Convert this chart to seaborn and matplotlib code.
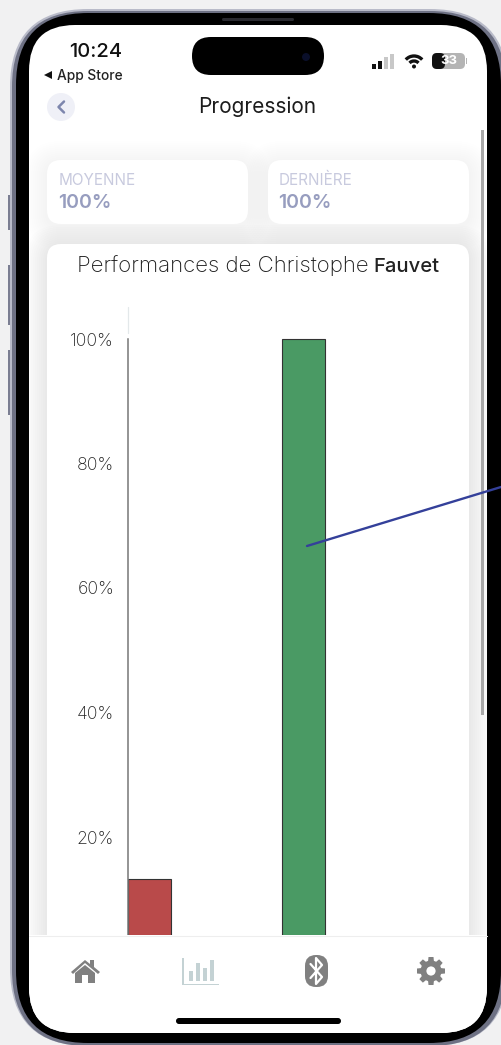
import numpy as np
import pandas as pd
import matplotlib.pyplot as plt
import seaborn as sns
from matplotlib.patches import FancyBboxPatch, Circle, Polygon, Rectangle, Arc

# Data
attempts = ["Essai 1", "Essai 2"]
scores = [13.3, 100]
bar_colors = ["#b94a4a", "#4a9a64"]
y_ticks = [20, 40, 60, 80, 100]
y_tick_labels = ["20%", "40%", "60%", "80%", "100%"]

W, H = 502, 1045
UI_FONT = "Inter"

sns.set_theme(style="white")
plt.rcParams["font.family"] = [UI_FONT, "DejaVu Sans"]

fig = plt.figure(figsize=(W / 100, H / 100), dpi=100, facecolor="#f1f1f2")


def pixel_axes(zorder):
    a = fig.add_axes([0, 0, 1, 1], zorder=zorder)
    a.set_xlim(0, W)
    a.set_ylim(H, 0)
    a.axis("off")
    a.patch.set_alpha(0)
    return a


def rounded(a, x, y, w, h, r, **kw):
    p = FancyBboxPatch((x, y), w, h, boxstyle=f"round,pad=0,rounding_size={r}", linewidth=kw.pop("lw", 0), **kw)
    a.add_patch(p)
    return p


back = pixel_axes(0)

# phone body
rounded(back, 10, 9, 498, 1037, 78, fc="#b9bbc9")
rounded(back, 12, 11, 494, 1035, 76, fc="#6e7184")
rounded(back, 16, 13, 485, 1030, 72, fc="#000000")
screen = rounded(back, 29, 25, 458, 1008, 46, fc="#ffffff")
for y0, y1 in [(195, 230), (265, 325), (350, 415)]:
    back.add_patch(Rectangle((8.5, y0), 2, y1 - y0, fc="#7b7e92", lw=0))
rounded(back, 222, 18, 72, 3, 1.5, fc="#2a2a30")

# soft shadows behind the cards
for grow in range(22, 0, -2):
    for x, y, w, h, alpha in [(47, 160, 201, 64, 0.0035), (268, 160, 201, 64, 0.0035), (47, 244, 422, 720, 0.006)]:
        s = rounded(back, x - grow, y - grow + 3, w + 2 * grow, h + 2 * grow, 14 + grow, fc="#000000", alpha=alpha)
        s.set_clip_path(screen)
rounded(back, 47, 160, 201, 64, 14, fc="#ffffff")
rounded(back, 268, 160, 201, 64, 14, fc="#ffffff")
rounded(back, 47, 244, 422, 720, 14, fc="#ffffff")

# status bar
back.text(96, 52, "10:24", fontsize=14.5, weight="medium", ha="center", va="center", color="#111111")
back.add_patch(Polygon([[44, 75], [52, 71], [52, 79]], fc="#111111", lw=0))
back.text(57, 76, "App Store", fontsize=9.9, weight="medium", ha="left", va="center", color="#222222")
rounded(back, 192, 37, 132, 38, 19, fc="#000000")
back.add_patch(Circle((306, 57), 4, fc="#0a0f2a", lw=0))
for i, (h, col) in enumerate(zip([5, 8, 12, 15], ["#111111", "#111111", "#c8c8c8", "#c8c8c8"])):
    back.add_patch(Rectangle((372.5 + i * 6, 68.5 - h), 4, h, fc=col, lw=0))
back.add_patch(Circle((414, 66.5), 2, fc="#111111", lw=0))
for d in [12, 22]:
    back.add_patch(Arc((414, 67), d, d, theta1=222, theta2=318, lw=2.4, color="#111111"))
rounded(back, 432, 53, 33, 16, 5, fc="#b4b4b4")
rounded(back, 432, 53, 13, 16, 5, fc="#111111")
back.add_patch(Rectangle((466, 58), 1.5, 6, fc="#b4b4b4", lw=0))
back.text(448.5, 61.5, "33", fontsize=9.5, weight="bold", ha="center", va="center", color="#ffffff")

# header
back.add_patch(Circle((61, 107), 14, fc="#eff0f7", lw=0))
back.plot([64, 58.5, 64], [101.5, 107, 112.5], color="#7d86ad", lw=1.8)
back.text(257.5, 107, "Progression", fontsize=15, ha="center", va="center", color="#1c1c1c")
back.add_patch(Rectangle((481.5, 130), 3, 585, fc="#a8a8a8", lw=0))

# stat cards
for x, name in [(59, "MOYENNE"), (279, "DERNIÈRE")]:
    back.text(x, 180.5, name, fontsize=11, ha="left", va="center", color="#c8cade")
    back.text(x - 1, 202.5, "100%", fontsize=14, weight="semibold", ha="left", va="center", color="#979dbf")

# chart card title
back.text(77, 265.5, "Performances de Christophe", fontsize=16, weight="light", ha="left", va="center", color="#1c1c1c")
back.text(373, 266.5, "Fauvet", fontsize=14.5, weight="medium", ha="left", va="center", color="#222222")

# chart, 100% at y=339 and 20% at y=837, cut off by the tab bar at y=935
px_per_pct = (837 - 339) / 80
y_low = 100 - (935 - 339) / px_per_pct
y_high = 100 + (339 - 307) / px_per_pct
ax = fig.add_axes([128 / W, 1 - 935 / H, (469 - 128) / W, (935 - 307) / H], zorder=1)
ax.patch.set_alpha(0)

df = pd.DataFrame({"attempt": attempts, "score": scores})
sns.barplot(data=df, x="attempt", y="score", hue="attempt", palette=bar_colors, width=0.28, dodge=False,
            saturation=1, legend=False, edgecolor="#333333", linewidth=0.8, ax=ax)
ax.set_xlim(-0.14, 2.075)
ax.set_ylim(y_low, y_high)
ax.set_xlabel("")
ax.set_ylabel("")
ax.set_xticks([])
ax.set_yticks(y_ticks)
ax.set_yticklabels(y_tick_labels, fontsize=12.7, weight="light", color="#222222")
ax.tick_params(axis="y", length=0, pad=10)
sns.despine(ax=ax, top=True, right=True, bottom=True)
ax.spines["left"].set_bounds(y_low, 100)
ax.spines["left"].set_color("#777777")
ax.spines["left"].set_linewidth(1.1)
ax.plot([-0.14, -0.14], [100 + 1, y_high], color="#e3e8ea", lw=0.9, clip_on=False)

# tab bar and the hand drawn annotation go on top
front = pixel_axes(2)
front.plot([307, 501], [546, 487], color="#34409a", lw=1.7, solid_capstyle="round")
tab = Rectangle((29, 935), 458, 100, fc="#ffffff", ec="none", lw=0)
front.add_patch(tab)
tab.set_clip_path(screen)
front.plot([29, 487], [935.5, 935.5], color="#eeeeee", lw=0.8)

icon = "#808080"
# house
front.add_patch(Polygon([[71, 972], [85, 960], [90, 964], [90, 960], [94, 960], [94, 967], [100, 972], [98, 974], [85, 963], [73, 974]], fc=icon, lw=0))
front.add_patch(Polygon([[75, 973], [85, 965], [95, 973], [95, 983], [88, 983], [88, 975], [82, 975], [82, 983], [75, 983]], fc=icon, lw=0))

# bars icon
bar_icon = "#c4d2d4"
front.add_patch(Rectangle((182, 958), 1.6, 27, fc=bar_icon, lw=0))
front.add_patch(Rectangle((182, 983.5), 37, 1.8, fc=bar_icon, lw=0))
for x, h in [(189, 10), (196, 18), (203, 13), (210, 21)]:
    front.add_patch(Rectangle((x, 980.5 - h), 4.5, h, fc=bar_icon, lw=0))

# bluetooth
rounded(front, 305, 955, 23, 32, 11, fc=icon)
front.plot([310.5, 322, 316, 316, 322, 310.5], [964, 977, 984, 958, 965, 978], color="#ffffff", lw=1.6)

# gear
angles = np.linspace(0, 2 * np.pi, 8, endpoint=False)
front.add_patch(Circle((431, 971), 10.5, fc=icon, lw=0))
for a in angles:
    c, s = np.cos(a), np.sin(a)
    nx, ny = -s, c
    pts = [[431 + 9 * c + 3 * nx, 971 + 9 * s + 3 * ny], [431 + 14 * c + 2.5 * nx, 971 + 14 * s + 2.5 * ny],
           [431 + 14 * c - 2.5 * nx, 971 + 14 * s - 2.5 * ny], [431 + 9 * c - 3 * nx, 971 + 9 * s - 3 * ny]]
    front.add_patch(Polygon(pts, fc=icon, lw=0))
front.add_patch(Circle((431, 971), 4.6, fc="#ffffff", lw=0))

# home indicator
rounded(front, 176, 1018, 165, 6, 3, fc="#000000")

fig.savefig("out.png", dpi=100)
